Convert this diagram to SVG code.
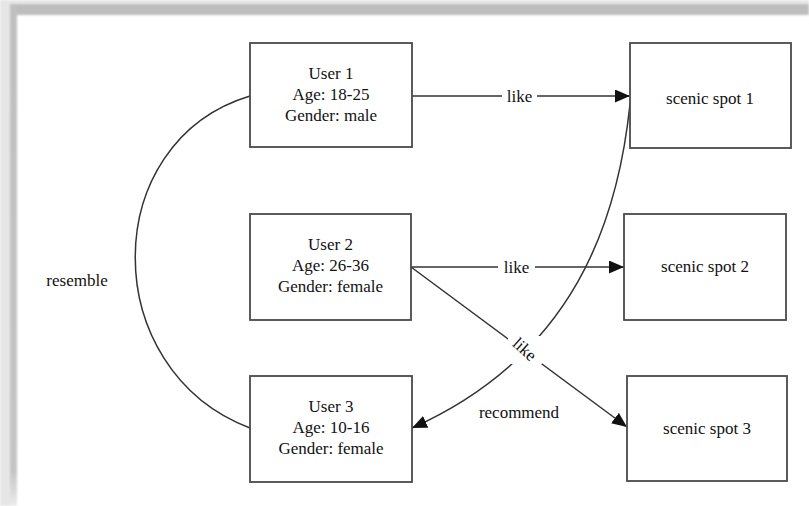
<svg xmlns="http://www.w3.org/2000/svg" width="809" height="506" viewBox="0 0 809 506">
  <defs>
    <style>
      .box { fill: #ffffff; stroke: #4a4a4a; stroke-width: 1.8; }
      .lbl { font-family: 'Liberation Serif', 'DejaVu Serif', serif; font-size: 17px; fill: #111111; text-anchor: middle; }
      .edge { fill: none; stroke: #333333; stroke-width: 1.5; }
      .gap { fill: #ffffff; }
    </style>
    <marker id="arrow" markerWidth="16" markerHeight="14" refX="15" refY="6.5" orient="auto" markerUnits="userSpaceOnUse">
      <path d="M0,0 L15,6.5 L0,13 Z" fill="#111111"/>
    </marker>
    <linearGradient id="leftFade" x1="0" y1="0" x2="0" y2="1">
      <stop offset="0" stop-color="#c0c0c0"/>
      <stop offset="0.93" stop-color="#c4c4c4"/>
      <stop offset="1" stop-color="#ebebeb"/>
    </linearGradient>
    <filter id="soft" x="-5%" y="-5%" width="110%" height="110%">
      <feGaussianBlur stdDeviation="0.8"/>
    </filter>
  </defs>

  <!-- page background with shadowed frame on top and left -->
  <rect x="0" y="0" width="809" height="506" fill="#ffffff"/>
  <g id="frame" filter="url(#soft)">
    <rect x="0" y="0" width="809" height="5" fill="#e6e6e6"/>
    <rect x="10" y="4" width="799" height="11" fill="#bdbdbd"/>
    <rect x="0" y="0" width="10" height="506" fill="#e6e6e6"/>
    <rect x="10" y="4" width="7" height="502" fill="url(#leftFade)"/>
  </g>

  <!-- connectors -->
  <g id="connectors">
    <path class="edge" d="M250,96 C97,142 97,370 250,428"/>
    <line class="edge" x1="412" y1="96" x2="630" y2="96" marker-end="url(#arrow)"/>
    <line class="edge" x1="411" y1="267" x2="624" y2="267" marker-end="url(#arrow)"/>
    <line class="edge" x1="411" y1="267" x2="627" y2="427" marker-end="url(#arrow)"/>
    <path class="edge" d="M630,104 C618,220 575,355 412,428" marker-end="url(#arrow)"/>

    <!-- edge labels -->
    <rect class="gap" x="502" y="86" width="35" height="20"/>
    <text class="lbl" x="519.5" y="102">like</text>
    <rect class="gap" x="498" y="257" width="37" height="20"/>
    <text class="lbl" x="516.5" y="273">like</text>
    <rect class="gap" x="508" y="336" width="34" height="28"/>
    <text class="lbl" x="525" y="355" transform="rotate(42 525 349)">like</text>
    <text class="lbl" x="519" y="418">recommend</text>
    <text class="lbl" x="77" y="286">resemble</text>
  </g>

  <!-- users -->
  <g id="user1">
    <rect class="box" x="250" y="43" width="162" height="104"/>
    <text class="lbl" x="331" y="79">User 1</text>
    <text class="lbl" x="331" y="100">Age: 18-25</text>
    <text class="lbl" x="331" y="121">Gender: male</text>
  </g>
  <g id="user2">
    <rect class="box" x="250" y="214" width="161" height="106"/>
    <text class="lbl" x="330.5" y="250">User 2</text>
    <text class="lbl" x="330.5" y="271">Age: 26-36</text>
    <text class="lbl" x="330.5" y="292">Gender: female</text>
  </g>
  <g id="user3">
    <rect class="box" x="250" y="376" width="162" height="106"/>
    <text class="lbl" x="331" y="412">User 3</text>
    <text class="lbl" x="331" y="433">Age: 10-16</text>
    <text class="lbl" x="331" y="454">Gender: female</text>
  </g>

  <!-- scenic spots -->
  <g id="spot1">
    <rect class="box" x="630" y="43" width="161" height="105"/>
    <text class="lbl" x="710" y="104">scenic spot 1</text>
  </g>
  <g id="spot2">
    <rect class="box" x="624" y="214" width="162" height="106"/>
    <text class="lbl" x="705" y="272">scenic spot 2</text>
  </g>
  <g id="spot3">
    <rect class="box" x="627" y="376" width="160" height="105"/>
    <text class="lbl" x="707" y="434">scenic spot 3</text>
  </g>
</svg>
